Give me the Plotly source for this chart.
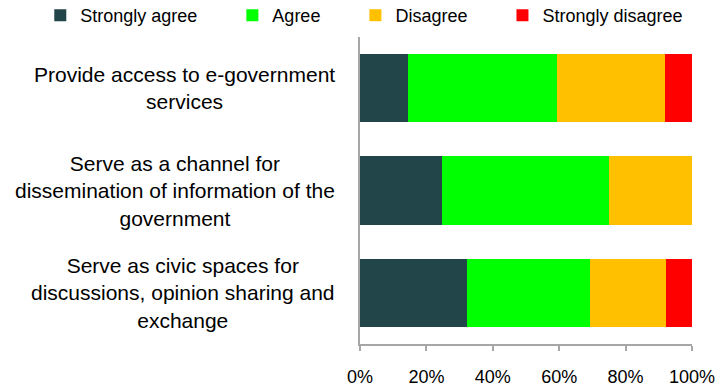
import plotly.graph_objects as go

# categories (top to bottom)
categories = [
    'Provide access to e-government<br>services',
    'Serve as a channel for<br>dissemination of information of the<br>government',
    'Serve as civic spaces for<br>discussions, opinion sharing and<br>exchange',
]
strongly_agree = [14.6, 24.7, 32.3]
agree = [44.7, 50.3, 37.1]
disagree = [32.7, 25.0, 22.7]
strongly_disagree = [8.0, 0.0, 7.9]

series_names = ['Strongly agree', 'Agree', 'Disagree', 'Strongly disagree']
colors = ['#214548', '#00ff00', '#ffc000', '#ff0000']
x_ticks = [0, 20, 40, 60, 80, 100]
x_tick_labels = ['0%', '20%', '40%', '60%', '80%', '100%']

font = 'Liberation Sans, Arial, sans-serif'
pad = '\u00a0' * 6  # extra space between legend entries

fig = go.Figure()
all_vals = [strongly_agree, agree, disagree, strongly_disagree]
for i, (name, vals, col) in enumerate(zip(series_names, all_vals, colors)):
    fig.add_trace(go.Bar(
        name=name + (pad if i < 3 else ''), y=categories, x=vals,
        orientation='h', marker=dict(color=col, line=dict(width=0)),
    ))

# category labels, centred lines like the original
for c in categories:
    fig.add_annotation(
        text=c, xref='paper', x=0, yref='y', y=c,
        xanchor='right', xshift=-23, align='center', showarrow=False,
        font=dict(family=font, size=21, color='#000000'),
    )

fig.update_layout(
    width=717, height=388,
    barmode='stack', bargap=0.335,
    margin=dict(l=360, r=25, t=37, b=44, autoexpand=False),
    paper_bgcolor='white', plot_bgcolor='white',
    font=dict(family=font, size=18, color='#000000'),
    showlegend=True,
    legend=dict(
        orientation='h', x=-0.963, y=1.07, xanchor='left', yanchor='middle',
        font=dict(size=18), traceorder='normal',
        itemclick=False, itemdoubleclick=False,
    ),
    xaxis=dict(
        range=[0, 100], tickvals=x_ticks, ticktext=x_tick_labels,
        showgrid=False, zeroline=False,
        showline=True, linecolor='#a6a6a6', linewidth=2,
        ticks='outside', ticklen=5, tickcolor='#a6a6a6', tickwidth=2,
        ticklabelstandoff=10,
        tickfont=dict(size=18),
    ),
    yaxis=dict(
        type='category', autorange='reversed',
        showticklabels=False, showgrid=False, zeroline=False,
        showline=True, linecolor='#a6a6a6', linewidth=2,
    ),
)

# drop the page's default body margin so the figure sits at the window's corner
fig.write_html("out.html", config={'displayModeBar': False},
               post_script="document.body.style.margin='0';")
